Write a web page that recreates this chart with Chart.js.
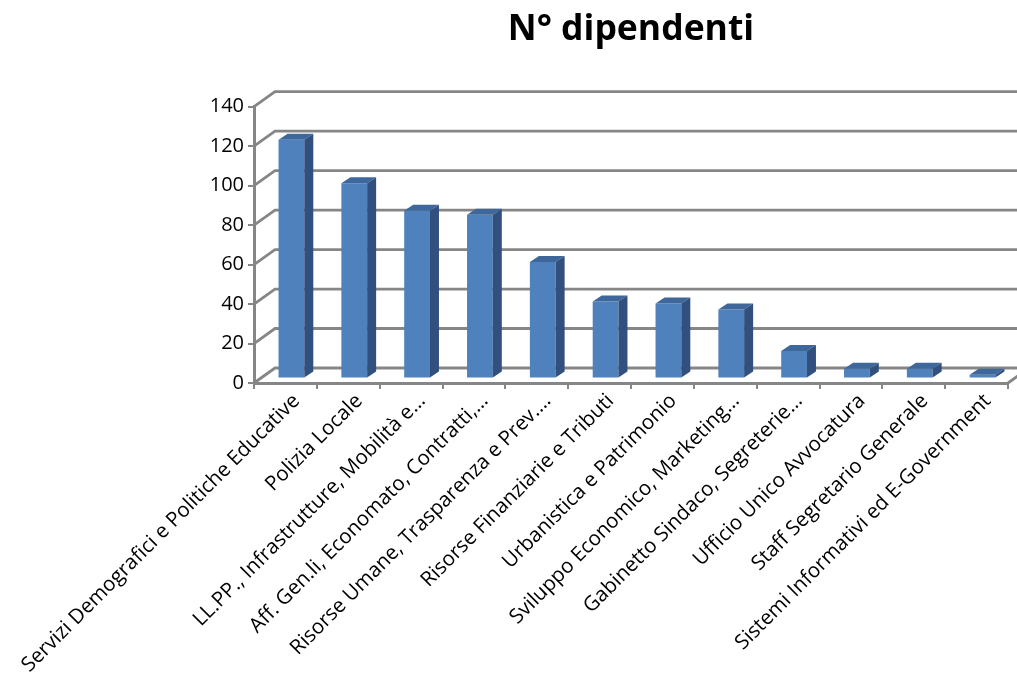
<!DOCTYPE html>
<html>
<head>
<meta charset="utf-8">
<script src="https://cdn.jsdelivr.net/npm/chart.js@4"></script>
<style>
  html, body { margin: 0; padding: 0; background: #fff; }
  #wrap { width: 1017px; height: 684px; }
</style>
</head>
<body>
<div id="wrap"><canvas id="c" width="1017" height="684"></canvas></div>
<script>
// Staff count per department
const categories = [
  'Servizi Demografici e Politiche Educative',
  'Polizia Locale',
  'LL.PP., Infrastrutture, Mobilità e…',
  'Aff. Gen.li, Economato, Contratti,…',
  'Risorse Umane, Trasparenza e Prev.…',
  'Risorse Finanziarie e Tributi',
  'Urbanistica e Patrimonio',
  'Sviluppo Economico, Marketing…',
  'Gabinetto Sindaco, Segreterie…',
  'Ufficio Unico Avvocatura',
  'Staff Segretario Generale',
  'Sistemi Informativi ed E-Government'
];
const dipendenti = [121, 99, 85, 83, 59, 39, 38, 35, 14, 5, 5, 2];
const yTicks = [0, 20, 40, 60, 80, 100, 120, 140];
const chartTitle = 'N° dipendenti';

// 3D look: depth of the walls, position of the bar plane, depth of each bar
const WALL_DX = 21, WALL_DY = -15;
const BAR_DX = 6, BAR_DY = -4.4;
const BAR_DEPTH_DX = 9, BAR_DEPTH_DY = -6;
const GRID_COLOR = '#868686';
const FRONT_COLOR = '#4F81BD';
const TOP_COLOR = '#3E679B';
const SIDE_COLOR = '#31507D';

const threeD = {
  id: 'threeD',
  beforeDatasetsDraw(chart) {
    const ctx = chart.ctx;
    const ys = chart.scales.y;
    const left = chart.chartArea.left, right = chart.chartArea.right, bottom = chart.chartArea.bottom;
    ctx.save();
    ctx.strokeStyle = GRID_COLOR;
    ctx.lineWidth = 2.8;
    ctx.lineCap = 'butt';
    yTicks.forEach(v => {
      const y = ys.getPixelForValue(v);
      ctx.beginPath();
      ctx.moveTo(left, y);
      ctx.lineTo(left + WALL_DX, y + WALL_DY);
      ctx.lineTo(chart.width + 5, y + WALL_DY);
      ctx.stroke();
    });
    // right edge of the floor
    ctx.beginPath();
    ctx.moveTo(right, bottom);
    ctx.lineTo(right + WALL_DX, bottom + WALL_DY);
    ctx.stroke();
    ctx.restore();
    ctx.save();
    ctx.translate(BAR_DX, BAR_DY);
  },
  afterDatasetsDraw(chart) {
    const ctx = chart.ctx;
    const meta = chart.getDatasetMeta(0);
    meta.data.forEach(bar => {
      const p = bar.getProps(['x', 'y', 'base', 'width'], true);
      const l = p.x - p.width / 2, r = p.x + p.width / 2;
      // top face
      ctx.fillStyle = TOP_COLOR;
      ctx.beginPath();
      ctx.moveTo(l, p.y);
      ctx.lineTo(r, p.y);
      ctx.lineTo(r + BAR_DEPTH_DX, p.y + BAR_DEPTH_DY);
      ctx.lineTo(l + BAR_DEPTH_DX, p.y + BAR_DEPTH_DY);
      ctx.closePath();
      ctx.fill();
      // side face
      ctx.fillStyle = SIDE_COLOR;
      ctx.beginPath();
      ctx.moveTo(r, p.y);
      ctx.lineTo(r + BAR_DEPTH_DX, p.y + BAR_DEPTH_DY);
      ctx.lineTo(r + BAR_DEPTH_DX, p.base + BAR_DEPTH_DY);
      ctx.lineTo(r, p.base);
      ctx.closePath();
      ctx.fill();
    });
    ctx.restore();
  }
};

new Chart(document.getElementById('c'), {
  type: 'bar',
  data: {
    labels: categories,
    datasets: [{
      label: chartTitle,
      data: dipendenti,
      backgroundColor: FRONT_COLOR,
      borderWidth: 0,
      categoryPercentage: 1,
      barPercentage: 0.41
    }]
  },
  options: {
    responsive: false,
    devicePixelRatio: 1,
    animation: false,
    layout: { padding: { top: 0, right: 9, left: 0, bottom: 0 }, autoPadding: false },
    plugins: {
      legend: { display: false },
      tooltip: { enabled: false },
      title: {
        display: true,
        text: chartTitle,
        fullSize: false,
        color: '#000',
        font: { family: 'Open Sans', weight: 'bold', size: 35.5, lineHeight: 1.2 },
        padding: { top: 9, bottom: 55 }
      }
    },
    scales: {
      y: {
        min: 0,
        max: 140,
        afterBuildTicks: s => { s.ticks = yTicks.map(v => ({ value: v })); },
        afterFit: s => { s.width = 254; },
        ticks: { color: '#000', font: { family: 'Open Sans', size: 20 }, padding: 4 },
        grid: { drawOnChartArea: false, tickLength: 6, color: GRID_COLOR, lineWidth: 2 },
        border: { color: GRID_COLOR, width: 3 }
      },
      x: {
        afterFit: s => { s.height = 301; s.paddingLeft = 0; s.paddingRight = 0; },
        ticks: {
          color: '#000',
          font: { family: 'Open Sans', size: 20.5 },
          minRotation: 45,
          maxRotation: 45,
          autoSkip: false,
          labelOffset: 11,
          padding: 0
        },
        grid: { drawOnChartArea: false, tickLength: 6, offset: true, color: GRID_COLOR, lineWidth: 2 },
        border: { color: GRID_COLOR, width: 3 }
      }
    }
  },
  plugins: [threeD]
});
</script>
</body>
</html>
